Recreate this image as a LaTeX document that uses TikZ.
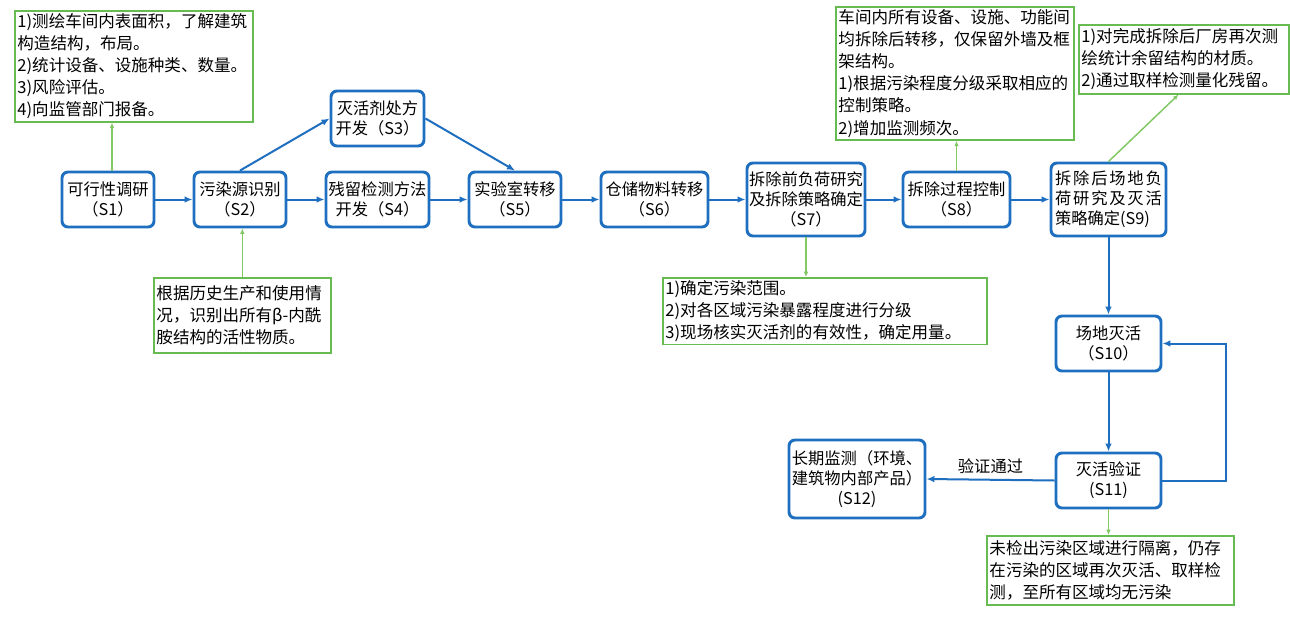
\documentclass[tikz,border=0pt]{standalone}
\usepackage{fontspec}
\setmainfont{Noto Sans CJK SC}
\usetikzlibrary{arrows.meta}
\definecolor{bl}{RGB}{31,111,192}
\definecolor{gr}{RGB}{104,186,82}
\definecolor{gra}{RGB}{130,200,100}
\begin{document}
\begin{tikzpicture}[x=0.75pt,y=-0.75pt,
  box/.style={draw=bl,line width=2.2pt,rounded corners=4.5pt,align=center,inner sep=1pt,
    font=\fontsize{12.2}{15}\selectfont,fill=white},
  note/.style={draw=gr,line width=1.2pt,align=left,inner sep=2pt,anchor=north west,
    font=\fontsize{12.4}{16.6}\selectfont},
  bar/.style={bl,line width=1.5pt,-{Latex[length=6pt,width=5pt]}},
  gar/.style={gra,line width=1.1pt,-{Latex[length=4pt,width=3.5pt]}},
  lbl/.style={font=\fontsize{12.2}{15}\selectfont,inner sep=1pt,text=black}]
\useasboundingbox (0,0) rectangle (1290,618);
\fill[white] (0,0) rectangle (1290,618);

% process boxes
\node[box,minimum width=69pt,minimum height=41.25pt] (S1) at (108,199.5) {可行性调研\\（S1）};
\node[box,minimum width=69pt,minimum height=41.25pt] (S2) at (240,199.5) {污染源识别\\（S2）};
\node[box,minimum width=69.75pt,minimum height=41.25pt] (S3) at (377.5,118.5) {灭活剂处方\\开发（S3）};
\node[box,minimum width=77.25pt,minimum height=41.25pt] (S4) at (377.5,199.5) {残留检测方法\\开发（S4）};
\node[box,minimum width=69pt,minimum height=41.25pt] (S5) at (515,199.5) {实验室转移\\（S5）};
\node[box,minimum width=80.25pt,minimum height=41.25pt] (S6) at (654.5,199.5) {仓储物料转移\\（S6）};
\node[box,minimum width=88.5pt,minimum height=54.75pt] (S7) at (806,199.5) {拆除前负荷研究\\及拆除策略确定\\（S7）};
\node[box,minimum width=80.25pt,minimum height=41.25pt] (S8) at (956.5,199.5) {拆除过程控制\\（S8）};
\node[box,minimum width=86.25pt,minimum height=54.75pt,align=left] (S9) at (1108.5,199.5)
  {\makebox[80pt][s]{拆\hfill 除\hfill 后\hfill 场\hfill 地\hfill 负}\\
   \makebox[80pt][s]{荷\hfill 研\hfill 究\hfill 及\hfill 灭\hfill 活}\\
   策略确定(S9)};
\node[box,minimum width=78.75pt,minimum height=41.25pt] (S10) at (1108.5,343.5) {场地灭活\\（S10）};
\node[box,minimum width=78.75pt,minimum height=41.25pt] (S11) at (1108.5,480.5) {灭活验证\\(S11)};
\node[box,minimum width=102pt,minimum height=58.5pt] (S12) at (857,479) {长期监测（环境、\\建筑物内部产品）\\(S12)};

% notes
\node[note,text width=174.5pt,minimum height=82.5pt] (N1) at (14,10)
  {1)测绘车间内表面积，了解建筑\\构造结构，布局。\\2)统计设备、设施种类、数量。\\3)风险评估。\\4)向监管部门报备。};
\node[note,text width=128.75pt,minimum height=56.25pt] (N2) at (153,277)
  {根据历史生产和使用情\\况，识别出所有β-内酰\\胺结构的活性物质。};
\node[note,text width=239pt,minimum height=49.5pt] (N7) at (662,277)
  {1)确定污染范围。\\2)对各区域污染暴露程度进行分级\\3)现场核实灭活剂的有效性，确定用量。};
\node[note,text width=174.5pt,minimum height=99pt] (N8) at (835,6)
  {车间内所有设备、设施、功能间\\均拆除后转移，仅保留外墙及框\\架结构。\\1)根据污染程度分级采取相应的\\控制策略。\\2)增加监测频次。};
\node[note,text width=153.5pt,minimum height=51.75pt] (N9) at (1078,24)
  {1)对完成拆除后厂房再次测\\绘统计余留结构的材质。\\2)通过取样检测量化残留。};
\node[note,text width=181.25pt,minimum height=51.75pt] (N11) at (986,535)
  {未检出污染区域进行隔离，仍存\\在污染的区域再次灭活、取样检\\测，至所有区域均无污染};

% blue connectors
\draw[bar] (S1.east) -- (S2.west);
\draw[bar] (S2.north) -- (S3.west);
\draw[bar] (S2.east) -- (S4.west);
\draw[bar] (S3.east) -- (S5.north);
\draw[bar] (S4.east) -- (S5.west);
\draw[bar] (S5.east) -- (S6.west);
\draw[bar] (S6.east) -- (S7.west);
\draw[bar] (S7.east) -- (S8.west);
\draw[bar] (S8.east) -- (S9.west);
\draw[bar] (S9.south) -- (S10.north);
\draw[bar] (S10.south) -- (S11.north);
\coordinate (L2) at (1226,343.5);
\draw[bar] (S11.east) -| (L2) -- (S10.east);
\draw[bar] (S11.west) -- node[lbl,above=3pt] (V) {验证通过} (S12.east);

% green connectors
\draw[gar] ([xshift=3pt]S1.north) -- ([xshift=3pt]S1.north |- N1.south);
\draw[gar] (N2.north) -- (N2.north |- S2.south);
\draw[gar] (S7.south) -- (S7.south |- N7.north);
\draw[gar] (S8.north) -- (S8.north |- N8.south);
\draw[gar] (S9.north) -- ([xshift=-4pt]N9.south);
\draw[gar] (S11.south) -- (S11.south |- N11.north);
\end{tikzpicture}
\end{document}
